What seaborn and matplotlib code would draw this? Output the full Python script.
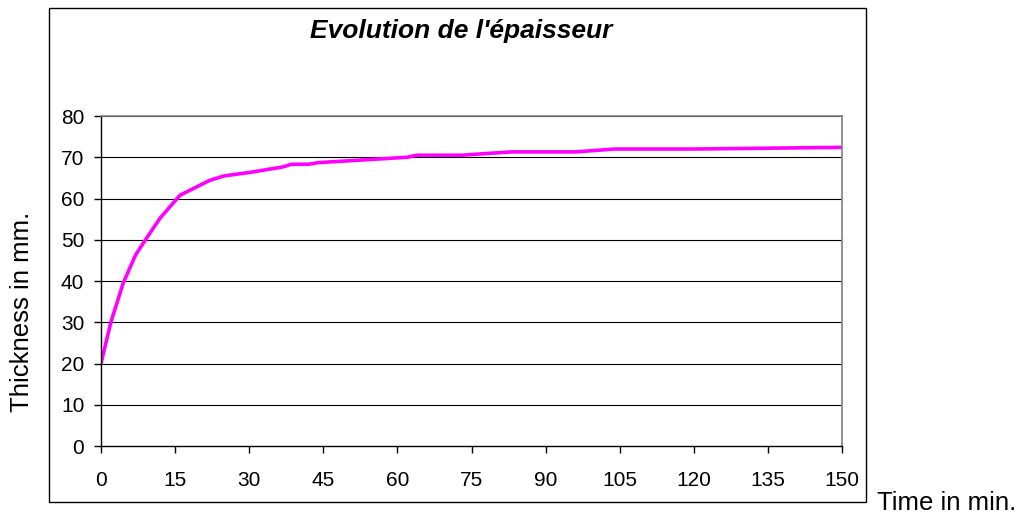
import pandas as pd
import seaborn as sns
import matplotlib
matplotlib.use("Agg")
import matplotlib.pyplot as plt
from matplotlib.patches import Rectangle

# values
time_min = [0, 2, 4.5, 7, 9, 12, 16, 18, 22, 25, 30, 37, 38.5, 42, 44,
            62, 64, 73, 83, 96, 104, 120, 150]
thickness_mm = [20, 30, 39.5, 46.3, 50, 55.3, 60.8, 62, 64.4, 65.5, 66.3,
                67.7, 68.3, 68.3, 68.7, 70, 70.5, 70.5, 71.3, 71.3, 72, 72,
                72.4]
x_ticks = [0, 15, 30, 45, 60, 75, 90, 105, 120, 135, 150]
y_ticks = [0, 10, 20, 30, 40, 50, 60, 70, 80]

df = pd.DataFrame({"time": time_min, "thickness": thickness_mm})

sns.set_theme()
sns.set_style("white")
plt.rcParams["font.family"] = ["Liberation Sans", "DejaVu Sans"]
plt.rcParams["text.color"] = "black"

fig = plt.figure(figsize=(10.23, 5.17), dpi=100)
ax = fig.add_axes([0.0987, 0.1373, 0.7244, 0.6383])

# outer chart frame
fig.patches.append(Rectangle((0.0479, 0.029), 0.7986, 0.9555,
                             transform=fig.transFigure, fill=False,
                             edgecolor="black", linewidth=1.0))

sns.lineplot(data=df, x="time", y="thickness", color="#FF00FF",
             linewidth=2.6, ax=ax)

ax.set_xlim(0, 150)
ax.set_ylim(0, 80)
ax.set_xticks(x_ticks)
ax.set_yticks(y_ticks)
ax.grid(False)
for v in y_ticks[1:]:
    ax.axhline(v, color="black", linewidth=0.8, zorder=0)

ax.spines["top"].set_color("#808080")
ax.spines["right"].set_color("#808080")
ax.spines["top"].set_linewidth(1.2)
ax.spines["right"].set_linewidth(1.2)
ax.spines["left"].set_color("black")
ax.spines["bottom"].set_color("black")
ax.spines["left"].set_linewidth(1.0)
ax.spines["bottom"].set_linewidth(1.0)

ax.tick_params(axis="both", direction="out", length=5, width=1,
               color="black", labelsize=15, labelcolor="black",
               bottom=True, left=True)
ax.tick_params(axis="x", pad=13)
ax.tick_params(axis="y", pad=7)

ax.set_xlabel("")
ax.set_ylabel("")
fig.text(0.0215, 0.3965, "Thickness in mm.", fontsize=18.5,
         rotation=90, ha="center", va="center")
fig.text(0.857, 0.027, "Time in min.", fontsize=18.5, ha="left",
         va="center")
fig.text(0.451, 0.940, "Evolution de l'épaisseur", fontsize=19,
         fontweight="bold", fontstyle="italic", ha="center", va="center")

plt.savefig("out.png", dpi=100)
